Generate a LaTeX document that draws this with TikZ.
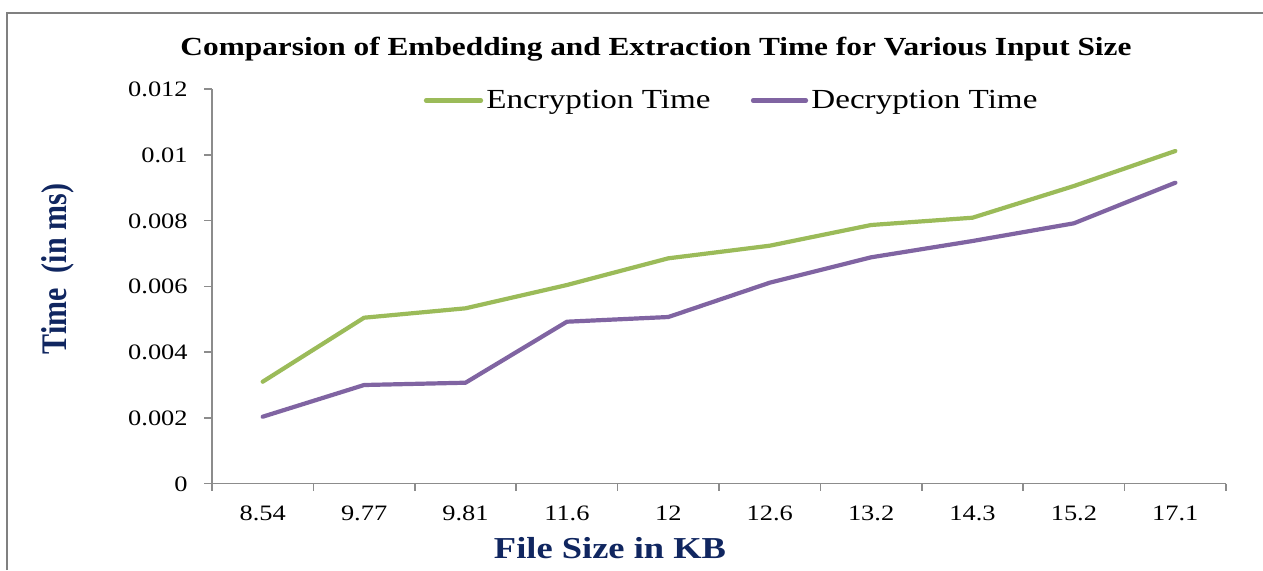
\documentclass[tikz,border=0pt]{standalone}
\usepackage{fontspec}
\usepackage{graphicx}
\setmainfont[FakeStretch=1.2]{Liberation Serif}
\newfontfamily\plainserif{Liberation Serif}
\definecolor{encgreen}{RGB}{155,187,89}
\definecolor{decpurple}{RGB}{128,100,162}
\definecolor{axisgray}{RGB}{140,140,140}
\definecolor{framegray}{RGB}{128,128,128}
\definecolor{navy}{RGB}{16,38,96}
\tikzset{
  series/.style={line width=2.1pt, line cap=round, line join=round},
  axisline/.style={draw=axisgray, line width=0.75pt},
  ticklab/.style={inner sep=0pt, font=\fontsize{11}{13}\selectfont},
  legtext/.style={inner sep=0pt, anchor=base west, font=\fontsize{13.8}{16}\selectfont},
}
\begin{document}
\begin{tikzpicture}[x=0.5pt,y=-0.5pt]
\useasboundingbox (0,0) rectangle (1263,570);
\fill[white] (0,0) rectangle (1263,570);
% frame
\draw[framegray, line width=1pt] (7,570) -- (7,13) -- (1263,13);
% title
\node[inner sep=0pt, anchor=base, font=\fontsize{13.05}{15}\selectfont\bfseries] (title) at (656,55)
  {Comparsion of Embedding and Extraction Time for Various Input Size};
% axes
\coordinate (o) at (212,483.7);
\coordinate (ytop) at (212,89);
\coordinate (xend) at (1226,483.7);
\draw[axisline] (ytop) -- (o) -- (xend);
% y ticks and labels
\foreach \v/\lab [count=\i from 0] in {0/0,0.002/0.002,0.004/0.004,0.006/0.006,0.008/0.008,0.01/0.01,0.012/0.012}{
  \pgfmathsetmacro{\yy}{483.7-\i*65.78}
  \draw[axisline] (204,\yy) -- (212,\yy);
  \node[ticklab, anchor=base east] (yl\i) at (188,\yy+7.6) {\lab};
}
% x ticks and labels
\foreach \k in {0,...,10}{
  \pgfmathsetmacro{\xx}{212+\k*101.4}
  \draw[axisline] (\xx,483.7) -- (\xx,491);
}
\foreach \lab [count=\i from 0] in {8.54,9.77,9.81,11.6,12,12.6,13.2,14.3,15.2,17.1}{
  \pgfmathsetmacro{\xx}{212+(\i+0.5)*101.4}
  \node[ticklab, anchor=base] (xl\i) at (\xx,520) {\lab};
}
% axis titles
\node[inner sep=0pt, anchor=base, text=navy, font=\fontsize{15.2}{18}\selectfont\bfseries] (xtitle) at (610,558) {File Size in KB};
\node[inner sep=0pt, anchor=base, rotate=90, text=navy, font=\plainserif\fontsize{15}{18}\selectfont\bfseries] (ytitle) at (66,269) {\scalebox{1}[1.2]{Time\ \ (in ms)}};
% data coordinates
\foreach \yy [count=\i from 0] in {381.7,317.7,308.3,285,258.3,245.7,225,217.7,186,151}{
  \coordinate (e\i) at ({212+(\i+0.5)*101.4},\yy);
}
\foreach \yy [count=\i from 0] in {416.7,385,382.7,321.7,317,282.7,257.3,241,223.3,182.7}{
  \coordinate (d\i) at ({212+(\i+0.5)*101.4},\yy);
}
\draw[series, encgreen] (e0) -- (e1) -- (e2) -- (e3) -- (e4) -- (e5) -- (e6) -- (e7) -- (e8) -- (e9);
\draw[series, decpurple] (d0) -- (d1) -- (d2) -- (d3) -- (d4) -- (d5) -- (d6) -- (d7) -- (d8) -- (d9);
% legend
\coordinate (le1) at (426,100.5);
\coordinate (le2) at (481,100.5);
\coordinate (ld1) at (753,100.5);
\coordinate (ld2) at (806,100.5);
\draw[series, encgreen] (le1) -- (le2);
\draw[series, decpurple] (ld1) -- (ld2);
\node[legtext] (lenc) at (486,108.3) {Encryption Time};
\node[legtext] (ldec) at (811,108.3) {Decryption Time};
\end{tikzpicture}
\end{document}
